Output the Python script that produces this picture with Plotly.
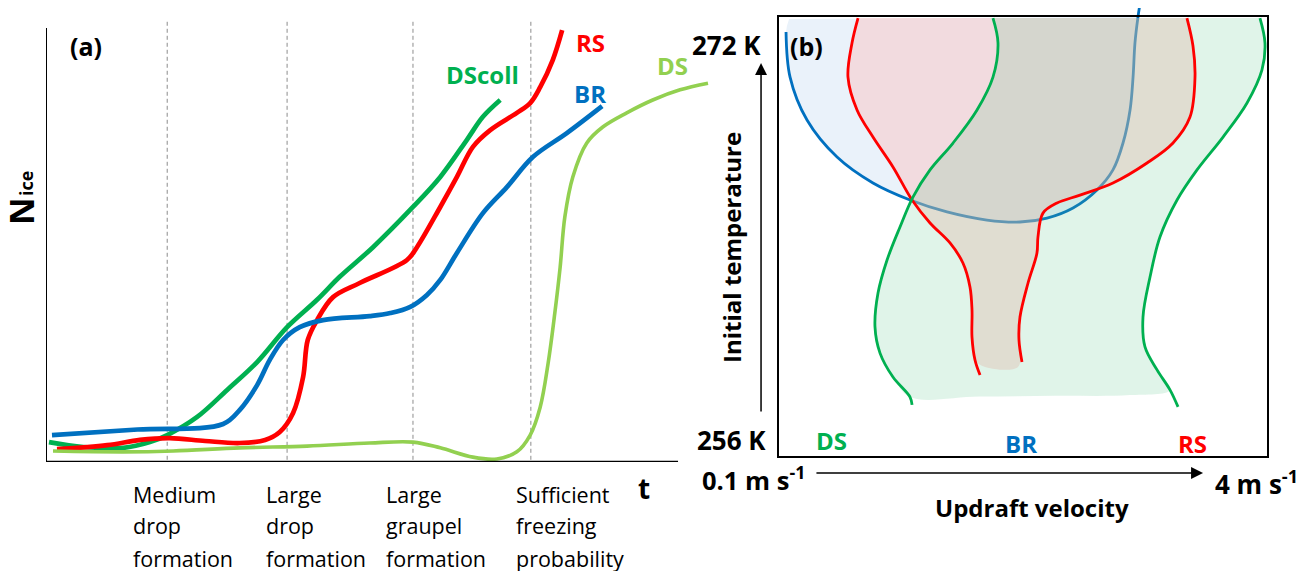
import plotly.graph_objects as go

# ======================= DATA =======================
# Panel (a): schematic evolution of N_ice with time (arbitrary units, 0-100)
stage_t = [18.2, 36.2, 55.1, 72.8]
stage_text = [["Medium", "drop", "formation"],
              ["Large", "drop", "formation"],
              ["Large", "graupel", "formation"],
              ["Sufficient", "freezing", "probability"]]

dscoll_t = [0.45, 5.6, 11.6, 15.6, 18.2, 22.7, 27.2, 31.7, 36.2, 40.7, 44.1, 49.1, 55.1, 59.2, 63.2, 65.6, 68.2]
dscoll_n = [4.5, 3.4, 3.2, 4.5, 6.1, 10.2, 16.3, 22.6, 30.5, 36.7, 41.9, 48.6, 57.7, 64.5, 72.9, 78.1, 81.9]

rs_t = [1.65, 9.2, 14.1, 18.6, 23.9, 29.1, 32.9, 35.1, 37.1, 38.6, 39.3, 40.7, 43.1, 47.1, 54.2, 55.7,
        59.2, 61.7, 64.1, 66.7, 70.7, 72.7, 74.2, 76.1, 77.5]
rs_n = [2.9, 3.8, 5.0, 5.4, 4.75, 4.3, 5.0, 6.8, 11.1, 19.2, 27.6, 32.1, 37.3, 40.5, 45.7, 48.6,
        57.7, 64.5, 71.3, 75.1, 79.0, 81.2, 84.8, 91.0, 97.7]

br_t = [0.9, 13.75, 26.6, 29.1, 31.7, 33.6, 35.6, 38.1, 41.6, 48.6, 51.7, 54.7, 57.2, 59.2, 61.7, 65.6,
        69.2, 73.1, 78.2, 83.5]
br_n = [6.1, 7.35, 8.6, 11.8, 17.4, 23.1, 27.6, 30.5, 32.1, 33.0, 33.7, 35.1, 37.8, 41.2, 47.3, 56.3,
        62.2, 69.0, 74.4, 80.5]

ds_t = [1.05, 11.6, 19.1, 29.1, 39.2, 48.6, 55.1, 59.2, 64.1, 67.7, 70.7, 72.7, 74.2, 75.4, 76.4, 77.2,
        77.9, 79.1, 81.2, 83.6, 87.2, 91.1, 95.2, 99.4]
ds_n = [2.5, 2.3, 2.5, 3.2, 3.6, 4.3, 4.5, 3.2, 1.1, 0.7, 2.3, 6.1, 12.4, 22.4, 33.7, 44.1,
        55.4, 64.5, 72.2, 75.8, 79.0, 81.9, 84.2, 85.7]

# Panel (b): regimes in updraft velocity (m/s) / initial temperature (K) space
temp_tick_vals = [272, 256]
temp_tick_text = ["272 K", "256 K"]
vel_tick_vals = [0.1, 4]
vel_tick_text = ["0.1 m s<sup>-1</sup>", "4 m s<sup>-1</sup>"]

br_v = [0.164, 0.196, 0.331, 0.570, 0.856, 1.151, 1.445, 1.763, 2.026, 2.241, 2.448, 2.639, 2.766,
        2.846, 2.902, 2.926, 2.941, 2.965, 2.981]
br_T = [272.53, 270.70, 268.96, 267.46, 266.41, 265.72, 265.24, 264.91, 264.83, 264.99, 265.40, 266.13,
        266.94, 268.03, 269.37, 270.70, 272.08, 273.13, 273.66]

rs_left_v = [0.737, 0.689, 0.657, 0.729, 0.856, 1.015, 1.167, 1.310, 1.469, 1.572, 1.628, 1.644, 1.644,
             1.668, 1.708]
rs_left_T = [273.09, 272.08, 270.70, 269.37, 268.27, 267.06, 265.72, 264.79, 263.98, 263.17, 262.20,
             261.27, 260.17, 259.24, 258.63]
rs_right_v = [3.355, 3.403, 3.419, 3.379, 3.244, 3.037, 2.766, 2.504, 2.321, 2.209, 2.169, 2.161, 2.090,
              2.026, 2.018, 2.042]
rs_right_T = [273.09, 271.96, 270.70, 269.08, 268.03, 267.22, 266.41, 265.92, 265.60, 265.19, 264.22,
              263.57, 262.36, 260.98, 260.05, 259.16]
rs_stem_v = [1.748, 2.010]
rs_stem_T = [258.96, 258.96]

ds_left_v = [1.811, 1.851, 1.811, 1.684, 1.493, 1.310, 1.174, 1.071, 0.968, 0.896, 0.872, 0.912, 1.015,
             1.151, 1.167]
ds_left_T = [273.09, 272.08, 270.70, 269.37, 268.03, 266.94, 265.84, 264.63, 263.29, 261.95, 260.58,
             259.52, 258.55, 257.74, 257.42]
ds_right_v = [3.936, 3.976, 3.952, 3.833, 3.642, 3.435, 3.276, 3.140, 3.061, 3.005, 3.021, 3.117, 3.220,
              3.284]
ds_right_T = [273.09, 272.08, 270.99, 269.65, 268.27, 266.94, 265.72, 264.22, 262.60, 260.98, 259.77,
              258.84, 258.03, 257.34]
ds_floor_v = [1.7, 2.3, 2.9]
ds_floor_T = [257.76, 257.79, 257.82]

# ======================= STYLE =======================
W, H = 1307, 571
OFF = 8  # the page body adds an 8 px margin
FONT = "Open Sans"
RED, GREEN, BLUE, LGREEN = "#FF0000", "#00B050", "#0070C0", "#92D050"


def px_x(p):
    return (p - OFF) / W


def px_y(p):
    return 1 - (p - OFF) / H


fig = go.Figure()

# ---------- panel (a) curves ----------
for tt, nn, col, lw in [(dscoll_t, dscoll_n, GREEN, 4.7), (rs_t, rs_n, RED, 4.7),
                        (br_t, br_n, BLUE, 4.7), (ds_t, ds_n, LGREEN, 3.6)]:
    fig.add_trace(go.Scatter(x=tt, y=nn, mode="lines", xaxis="x", yaxis="y",
                             line=dict(color=col, width=lw, shape="spline", smoothing=1.0),
                             showlegend=False, hoverinfo="skip"))

# ---------- panel (b) fills and curves ----------
blue_fill_v = [br_v[0] + 0.024] + br_v[:-1]
blue_fill_T = [273.05] + br_T[:-1]
fig.add_trace(go.Scatter(x=blue_fill_v, y=blue_fill_T, mode="lines", fill="toself",
                         fillcolor="#EAF2FA", line=dict(width=0, shape="spline"),
                         xaxis="x2", yaxis="y2", showlegend=False, hoverinfo="skip"))
fig.add_trace(go.Scatter(x=br_v, y=br_T, mode="lines", xaxis="x2", yaxis="y2",
                         line=dict(color=BLUE, width=2.8, shape="spline"),
                         showlegend=False, hoverinfo="skip"))

rs_fill_v = rs_left_v[:-1] + rs_stem_v + rs_right_v[-2::-1]
rs_fill_T = rs_left_T[:-1] + rs_stem_T + rs_right_T[-2::-1]
fig.add_trace(go.Scatter(x=rs_fill_v, y=rs_fill_T, mode="lines", fill="toself",
                         fillcolor="rgba(255,185,183,0.4)", line=dict(width=0, shape="spline"),
                         xaxis="x2", yaxis="y2", showlegend=False, hoverinfo="skip"))

ds_fill_v = ds_left_v[:-1] + ds_floor_v + ds_right_v[-2::-1]
ds_fill_T = ds_left_T[:-1] + ds_floor_T + ds_right_T[-2::-1]
fig.add_trace(go.Scatter(x=ds_fill_v, y=ds_fill_T, mode="lines", fill="toself",
                         fillcolor="rgba(83,194,133,0.18)", line=dict(width=0, shape="spline"),
                         xaxis="x2", yaxis="y2", showlegend=False, hoverinfo="skip"))

for vv, TT, col in [(rs_left_v, rs_left_T, RED), (rs_right_v, rs_right_T, RED),
                    (ds_left_v, ds_left_T, GREEN), (ds_right_v, ds_right_T, GREEN)]:
    fig.add_trace(go.Scatter(x=vv, y=TT, mode="lines", xaxis="x2", yaxis="y2",
                             line=dict(color=col, width=2.8, shape="spline"),
                             showlegend=False, hoverinfo="skip"))

# ---------- shapes ----------
shapes = []
for st in stage_t:
    shapes.append(dict(type="line", xref="x", yref="y", x0=st, x1=st, y0=0.5, y1=100,
                       line=dict(color="#8c8c8c", width=1, dash="4px,3px"), layer="below"))
shapes.append(dict(type="line", xref="x", yref="y", x0=0, x1=0, y0=0, y1=98.2,
                   line=dict(color="black", width=2)))
shapes.append(dict(type="line", xref="x", yref="y", x0=0, x1=94.9, y0=0, y1=0,
                   line=dict(color="black", width=2.5)))
shapes.append(dict(type="rect", xref="x2", yref="y2", x0=vel_tick_vals[0], x1=vel_tick_vals[1],
                   y0=255.31, y1=273.17, line=dict(color="black", width=2), layer="above"))

# ---------- annotations ----------
ann = []


def txt(text, x, y, xref, yref, size, color="black", bold=True, xanchor="center",
        yanchor="middle", angle=0):
    ann.append(dict(text=("<b>%s</b>" % text) if bold else text, x=x, y=y, xref=xref, yref=yref,
                    showarrow=False, xanchor=xanchor, yanchor=yanchor, textangle=angle,
                    font=dict(family=FONT, size=size, color=color)))


# panel (a)
txt("(a)", 6.0, 94.1, "x", "y", 25)
txt("DScoll", 65.5, 87.6, "x", "y", 24, GREEN)
txt("RS", 81.8, 94.8, "x", "y", 24, RED)
txt("BR", 81.7, 83.3, "x", "y", 24, BLUE)
txt("DS", 94.0, 89.6, "x", "y", 24, LGREEN)
label_dx = [-5.4, -3.45, -4.35, -2.55]
line_y = [494, 525, 558]
for st, dx, lines in zip(stage_t, label_dx, stage_text):
    for ln, yy in zip(lines, line_y):
        txt(ln, st + dx, px_y(yy), "x", "paper", 21.5, bold=False, xanchor="left")
txt("t", 89.8, px_y(488), "x", "paper", 28)
txt("N", px_x(21), px_y(211), "paper", "paper", 34, angle=-90)
txt("ice", px_x(26), px_y(184), "paper", "paper", 18, angle=-90)

# panel (b)
txt("(b)", 0.323, 271.96, "x2", "y2", 25)
txt(temp_tick_text[0], -0.019, temp_tick_vals[0], "x2", "y2", 26, xanchor="right")
txt(temp_tick_text[1], 0.020, temp_tick_vals[1], "x2", "y2", 26, xanchor="right")
txt(vel_tick_text[0], 0.331, 254.46, "x2", "y2", 25.5, xanchor="right")
txt(vel_tick_text[1], 3.562, 254.26, "x2", "y2", 26, xanchor="left")
txt("Updraft velocity", 2.122, 253.25, "x2", "y2", 24)
txt("Initial temperature", -0.266, 263.78, "x2", "y2", 24, angle=-90)
txt("DS", 0.522, 255.96, "x2", "y2", 24, GREEN)
txt("BR", 2.034, 255.84, "x2", "y2", 24, BLUE)
txt("RS", 3.403, 255.84, "x2", "y2", 24, RED)

# axis arrows of panel (b)
ann.append(dict(text="", x=-0.035, y=271.27, ax=-0.035, ay=257.09, xref="x2", yref="y2",
                axref="x2", ayref="y2", showarrow=True, arrowhead=2, arrowsize=1.6,
                arrowwidth=1.5, arrowcolor="black"))
ann.append(dict(text="", x=3.483, y=254.66, ax=0.394, ay=254.66, xref="x2", yref="y2",
                axref="x2", ayref="y2", showarrow=True, arrowhead=2, arrowsize=1.6,
                arrowwidth=1.5, arrowcolor="black"))

noax = dict(visible=False, showgrid=False, zeroline=False, fixedrange=True)
fig.update_layout(
    width=W, height=H, margin=dict(l=0, r=0, t=0, b=0),
    paper_bgcolor="white", plot_bgcolor="rgba(0,0,0,0)",
    showlegend=False,
    xaxis=dict(domain=[px_x(46), px_x(712)], range=[0, 100], **noax),
    yaxis=dict(domain=[px_y(462), px_y(20)], range=[0, 100], **noax),
    xaxis2=dict(domain=[px_x(690), px_x(1300)], range=[-0.60041, 4.25470], anchor="y2", **noax),
    yaxis2=dict(domain=[px_y(520), px_y(8)], range=[252.7595, 273.4986], anchor="x2", **noax),
    shapes=shapes,
    annotations=ann,
)

fig.write_html("out.html")
